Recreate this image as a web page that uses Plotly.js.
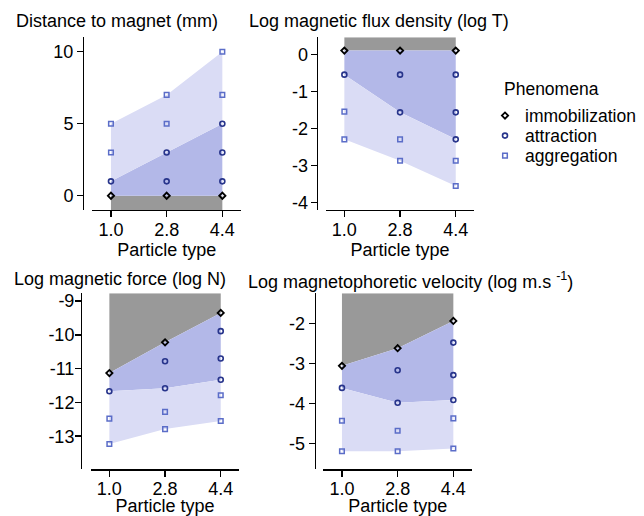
<!DOCTYPE html>
<html>
<head>
<meta charset="utf-8">
<script src="https://cdn.plot.ly/plotly-3.0.1.min.js"></script>
<style>html,body{margin:0;padding:0;background:#fff;}#chart{width:644px;height:516px;}</style>
</head>
<body>
<div id="chart"></div>
<script>
// ---- data ----
const categories = ['1.0', '2.8', '4.4'];
const phenomena = ['immobilization', 'attraction', 'aggregation'];
const legendTitle = 'Phenomena';

// Distance to magnet (mm)
const distImmob = [[0], [0], [0]];
const distAttr  = [[1], [1, 3], [1, 3, 5]];
const distAggr  = [[3, 5], [5, 7], [7, 10]];

// Log magnetic flux density (log T)
const fluxImmob = [[0.1], [0.1], [0.1]];
const fluxAttr  = [[-0.55], [-0.55, -1.57], [-0.55, -1.57, -2.3]];
const fluxAggr  = [[-1.55, -2.3], [-2.3, -2.88], [-2.88, -3.56]];

// Log magnetic force (log N)
const forceImmob = [[-11.13], [-10.22], [-9.35]];
const forceAttr  = [[-11.67], [-10.78, -11.58], [-9.89, -10.70, -11.33]];
const forceAggr  = [[-12.48, -13.23], [-12.28, -12.79], [-11.79, -12.55]];

// Log magnetophoretic velocity (log m.s-1)
const velImmob = [[-3.06], [-2.62], [-1.94]];
const velAttr  = [[-3.61], [-3.17, -3.98], [-2.48, -3.29, -3.91]];
const velAggr  = [[-4.43, -5.19], [-4.68, -5.19], [-4.37, -5.12]];

// tick labels
const distTicks  = [0, 5, 10];
const fluxTicks  = [0, -1, -2, -3, -4];
const forceTicks = [-9, -10, -11, -12, -13];
const velTicks   = [-2, -3, -4, -5];

const panelTitles = [
  'Distance to magnet (mm)',
  'Log magnetic flux density (log T)',
  'Log magnetic force (log N)',
  'Log magnetophoretic velocity (log m.s <sup>-1</sup>)'
];
const xTitle = 'Particle type';

// ---- styling / layout ----
const W = 644, H = 516;
const FONT = 'Liberation Sans, Arial, Helvetica, sans-serif';
const FS = 18;
const colImmob = '#000000', colAttr = '#27348b', colAggr = '#5b6dc8';
const fillGrey = '#999999', fillDark = '#b3b8e8', fillLight = '#dadcf5';

const panels = [
  {immob: distImmob, attr: distAttr, aggr: distAggr, ticks: distTicks, dir: -1,
   range: [-0.99, 11.0], xdom: [92.3, 241.0], ydom: [37.3, 210], ypos: 83, ystand: -4.5, xstand: 0, title: [14, 21]},
  {immob: fluxImmob, attr: fluxAttr, aggr: fluxAggr, ticks: fluxTicks, dir: 1,
   range: [-4.21, 0.46], xdom: [325.7, 474.4], ydom: [37.3, 210], ypos: 316.7, ystand: -1, xstand: 0, title: [247, 21]},
  {immob: forceImmob, attr: forceAttr, aggr: forceAggr, ticks: forceTicks, dir: 1,
   range: [-13.98, -8.77], xdom: [90.7, 239.4], ydom: [293.3, 469.3], ypos: 81, ystand: -3, xstand: 3, title: [12, 279]},
  {immob: velImmob, attr: velAttr, aggr: velAggr, ticks: velTicks, dir: 1,
   range: [-5.64, -1.25], xdom: [323.3, 472.0], ydom: [293.3, 469.3], ypos: 314.7, ystand: -4.5, xstand: 3, title: [246, 280]}
];

const legendIds = ['legend', 'legend2', 'legend3'];
const legendRowY = [115.7, 135.7, 155.7];
const legendLeft = 485;

const traces = [];
const layout = {
  width: W, height: H,
  margin: {l: 0, r: 0, t: 0, b: 0},
  paper_bgcolor: '#ffffff', plot_bgcolor: 'rgba(0,0,0,0)',
  font: {family: FONT, size: FS, color: '#000'},
  showlegend: true,
  annotations: []
};
legendIds.forEach((id, i) => {
  layout[id] = {
    x: legendLeft / W, y: 1 - legendRowY[i] / H, xanchor: 'left', yanchor: 'middle',
    font: {size: 17.5, color: '#000'}, bgcolor: 'rgba(0,0,0,0)', borderwidth: 0
  };
});
layout.annotations.push({
  text: legendTitle, xref: 'paper', yref: 'paper', x: 502 / W, y: 1 - 89 / H,
  xanchor: 'left', yanchor: 'middle', showarrow: false, font: {size: 17.5, color: '#000'}
});

const idx = categories.map((c, i) => i);

panels.forEach((p, k) => {
  const n = k + 1;
  const xa = 'x' + (n === 1 ? '' : n), ya = 'y' + (n === 1 ? '' : n);
  const xkey = 'xaxis' + (n === 1 ? '' : n), ykey = 'yaxis' + (n === 1 ? '' : n);
  const immobLine = p.immob.map(v => v[0]);
  const ext = p.dir > 0 ? (a => Math.min(...a)) : (a => Math.max(...a));
  const attrEdge = p.attr.map(ext);
  const aggrEdge = p.aggr.map(ext);
  const outer = p.dir > 0 ? p.range[1] : p.range[0];
  const rev = a => a.slice().reverse();

  // grey: immobilization to plot edge
  traces.push({x: idx.concat(rev(idx)), y: immobLine.concat(idx.map(() => outer)),
    xaxis: xa, yaxis: ya, type: 'scatter', mode: 'lines', fill: 'toself',
    fillcolor: fillGrey, line: {width: 0}, hoverinfo: 'skip', showlegend: false});
  // dark blue: immobilization to extreme attraction
  traces.push({x: idx.concat(rev(idx)), y: immobLine.concat(rev(attrEdge)),
    xaxis: xa, yaxis: ya, type: 'scatter', mode: 'lines', fill: 'toself',
    fillcolor: fillDark, line: {width: 0}, hoverinfo: 'skip', showlegend: false});
  // light blue: extreme attraction to extreme aggregation
  traces.push({x: idx.concat(rev(idx)), y: attrEdge.concat(rev(aggrEdge)),
    xaxis: xa, yaxis: ya, type: 'scatter', mode: 'lines', fill: 'toself',
    fillcolor: fillLight, line: {width: 0}, hoverinfo: 'skip', showlegend: false});

  const series = [
    {vals: p.aggr, name: phenomena[2], sym: 'square-open', col: colAggr, size: 4.6, lw: 1.5},
    {vals: p.attr, name: phenomena[1], sym: 'circle-open', col: colAttr, size: 5, lw: 1.6},
    {vals: p.immob, name: phenomena[0], sym: 'diamond-open', col: colImmob, size: 4.8, lw: 1.8}
  ];
  series.forEach(s => {
    const xs = [], ys = [];
    s.vals.forEach((arr, i) => arr.forEach(v => { xs.push(i); ys.push(v); }));
    const li = phenomena.indexOf(s.name);
    traces.push({x: xs, y: ys, xaxis: xa, yaxis: ya, type: 'scatter', mode: 'markers',
      name: s.name, legend: legendIds[li], showlegend: k === 0,
      marker: {symbol: s.sym, color: s.col, size: s.size, line: {width: s.lw, color: s.col}},
      cliponaxis: false});
  });

  layout[xkey] = {
    domain: [p.xdom[0] / W, p.xdom[1] / W], anchor: ya,
    range: [-0.335, 2.335], tickvals: idx, ticktext: categories,
    showline: true, linecolor: '#000', linewidth: 1.4,
    ticks: 'outside', ticklen: 6, tickwidth: 1.4, tickcolor: '#000',
    ticklabelstandoff: -3,
    showgrid: false, zeroline: false, fixedrange: true,
    tickfont: {size: FS, color: '#000'},
    title: {text: xTitle, font: {size: FS, color: '#000'}, standoff: p.xstand}
  };
  layout[ykey] = {
    domain: [1 - p.ydom[1] / H, 1 - p.ydom[0] / H], anchor: 'free', position: p.ypos / W,
    range: p.range, tickvals: p.ticks, ticktext: p.ticks.map(v => String(v)),
    showline: true, linecolor: '#000', linewidth: 1.4,
    ticks: 'outside', ticklen: 6, tickwidth: 1.4, tickcolor: '#000',
    ticklabelstandoff: p.ystand,
    showgrid: false, zeroline: false, fixedrange: true,
    tickfont: {size: FS, color: '#000'}
  };
  layout.annotations.push({
    text: panelTitles[k], xref: 'paper', yref: 'paper',
    x: p.title[0] / W, y: 1 - p.title[1] / H, xanchor: 'left', yanchor: 'middle',
    showarrow: false, font: {size: FS, color: '#000'}
  });
});

Plotly.newPlot('chart', traces, layout, {displayModeBar: false, staticPlot: true});
</script>
</body>
</html>
